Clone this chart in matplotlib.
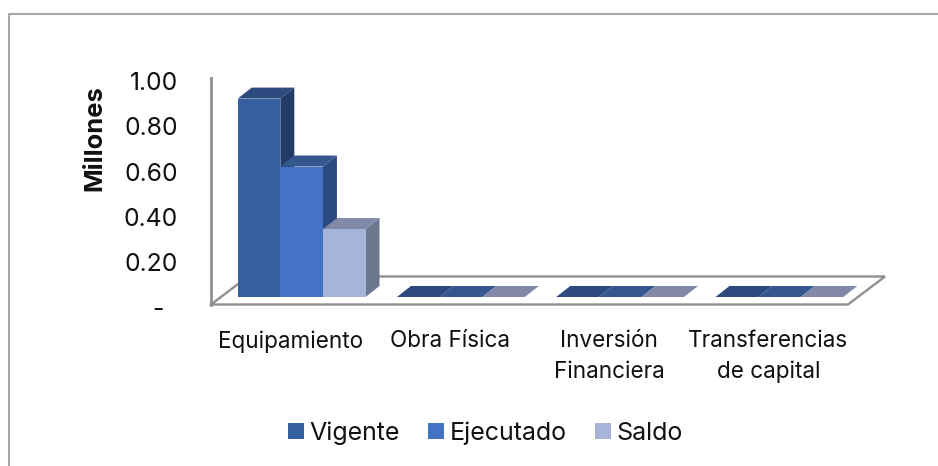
import matplotlib
matplotlib.use("Agg")
import matplotlib.pyplot as plt
from matplotlib.patches import Polygon, Rectangle
from matplotlib.lines import Line2D
from matplotlib.transforms import ScaledTranslation

categories = ["Equipamiento", "Obra Física", "Inversión\nFinanciera", "Transferencias\nde capital"]
series_names = ["Vigente", "Ejecutado", "Saldo"]
vigente = [0.876, 0.0, 0.0, 0.0]
ejecutado = [0.576, 0.0, 0.0, 0.0]
saldo = [0.30, 0.0, 0.0, 0.0]
y_ticks = [0.0, 0.2, 0.4, 0.6, 0.8, 1.0]
y_labels = ["-", "0.20", "0.40", "0.60", "0.80", "1.00"]

W, H = 938, 466
plt.rcParams["font.family"] = ["Inter", "DejaVu Sans"]
fig = plt.figure(figsize=(W / 100, H / 100), dpi=100)

# plot area in pixels
L, R, T, B = 211, 848, 78, 304.5
ax = fig.add_axes([L / W, 1 - B / H, (R - L) / W, (B - T) / H])
ax.set_xlim(-0.5, 3.5)
ax.set_ylim(0, 1)
ax.patch.set_alpha(0)
for s in ax.spines.values():
    s.set_visible(False)
pxx = 4 / (R - L)
pxy = 1 / (B - T)

AX_C = "#8f8f8f"
dx_floor, dy_floor = 37 * pxx, 28 * pxy
ax.add_line(Line2D([-0.5, -0.5], [0, 1], color=AX_C, lw=2, clip_on=False,
                   solid_capstyle="projecting"))
ax.add_line(Line2D([-0.5, 3.5, 3.5 + dx_floor, -0.5 + dx_floor, -0.5],
                   [0, 0, dy_floor, dy_floor, 0], color=AX_C, lw=1.7,
                   clip_on=False, solid_joinstyle="bevel"))

front = ["#365f9f", "#4472c4", "#a6b4da"]
top = ["#2c4a7e", "#34578f", "#8289a8"]
side = ["#223c68", "#2a4a80", "#6d7890"]

bw = 42.6 * pxx
off_x = 11 * pxx
off_y = 7.5 * pxy
dx, dy = 14 * pxx, 11 * pxy

for j, vals in enumerate([vigente, ejecutado, saldo]):
    xs = [i + off_x + (j - 1) * bw for i in range(len(categories))]
    for x, v in zip(xs, vals):
        xl = x - bw / 2
        xr = x + bw / 2
        y0, y1 = off_y, off_y + v
        ax.add_patch(Polygon([(xr, y0), (xr + dx, y0 + dy), (xr + dx, y1 + dy), (xr, y1)],
                             fc=side[j], ec="none", clip_on=False, zorder=3 + j))
        ax.add_patch(Polygon([(xl, y1), (xl + dx, y1 + dy), (xr + dx, y1 + dy), (xr, y1)],
                             fc=top[j], ec="none", clip_on=False, zorder=3 + j))
    ax.bar(xs, vals, width=bw, bottom=off_y, color=front[j], zorder=3 + j, clip_on=False)

ax.set_xticks(range(len(categories)))
ax.set_xticklabels(categories, fontsize=16.2, color="#111111", linespacing=1.5)
ax.set_yticks(y_ticks)
ax.set_yticklabels(y_labels, fontsize=17.8, color="#111111")
ax.tick_params(axis="both", length=0)
ax.tick_params(axis="x", pad=18.5)
ax.tick_params(axis="y", pad=24)
down = ScaledTranslation(0, -3 / 100, fig.dpi_scale_trans)
left = ScaledTranslation(-14 / 100, 0, fig.dpi_scale_trans)
for k, lab in enumerate(ax.get_yticklabels()):
    t = lab.get_transform() + down
    if k == 0:
        t = t + left
    lab.set_transform(t)
fig.text(95 / W, 1 - 138 / H, "Millones", rotation=90, ha="center", va="center",
         fontsize=18.4, fontweight="bold", color="#111111")

handles = [Rectangle((0, 0), 1, 1, fc=c, ec="none") for c in front]
fig.legend(handles, series_names, loc="center", bbox_to_anchor=(485.5 / W, 1 - 433 / H),
           ncol=3, frameon=False, fontsize=18, handlelength=0.64, handleheight=0.64,
           handletextpad=0.22, columnspacing=1.12, labelcolor="#111111")

# chart frame
fig.add_artist(Line2D([9 / W, 9 / W, 1], [0, 1 - 13.5 / H, 1 - 13.5 / H],
                      color="#a6a6a6", lw=1.5, transform=fig.transFigure))

fig.savefig("out.png", dpi=100)
